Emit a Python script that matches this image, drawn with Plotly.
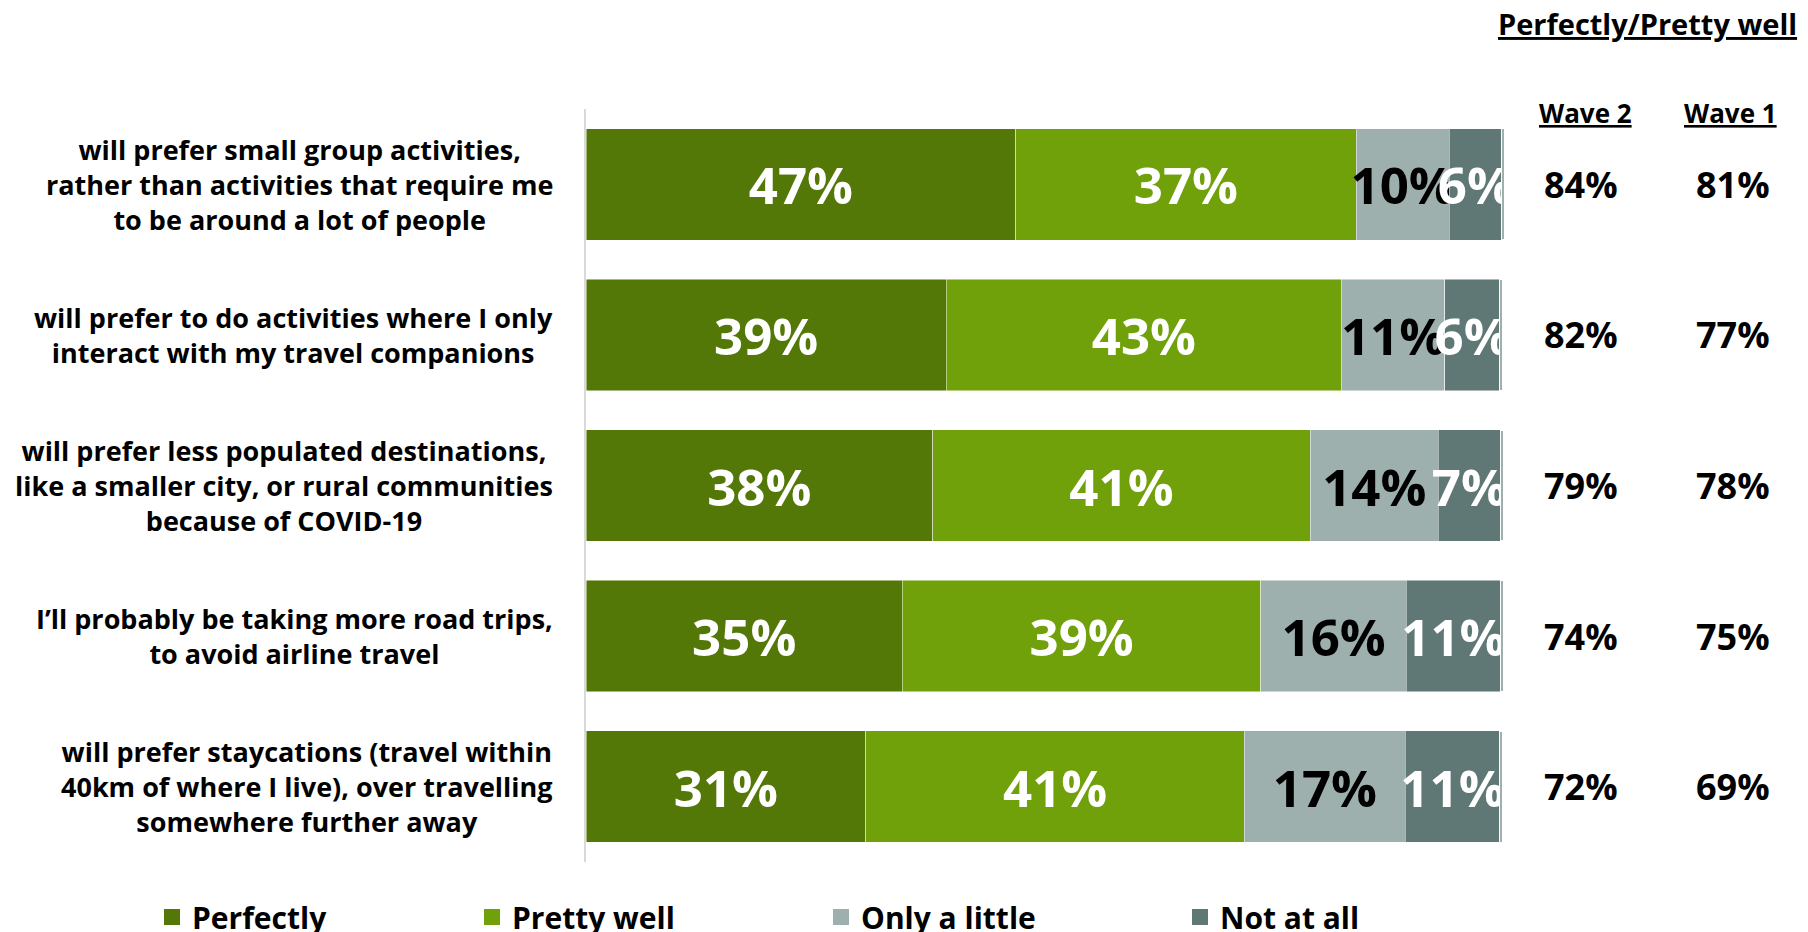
import plotly.graph_objects as go

categories = [
    "will prefer small group activities,<br>rather than activities that require me<br>to be around a lot of people",
    "will prefer to do activities where I only<br>interact with my travel companions",
    "will prefer less populated destinations,<br>like a smaller city, or rural communities<br>because of COVID-19",
    "I’ll probably be taking more road trips,<br>to avoid airline travel",
    "will prefer staycations (travel within<br>40km of where I live), over travelling<br>somewhere further away",
]
series_names = ["Perfectly", "Pretty well", "Only a little", "Not at all"]

# segment widths (percent)
perfectly = [47.0, 39.4, 37.9, 34.6, 30.6]
pretty_well = [37.2, 43.2, 41.3, 39.2, 41.4]
only_a_little = [10.2, 11.3, 14.0, 15.9, 17.6]
not_at_all = [5.7, 6.0, 6.8, 10.3, 10.3]
remainder = [0.4, 0.4, 0.4, 0.4, 0.4]

# printed labels
perfectly_labels = [47, 39, 38, 35, 31]
pretty_well_labels = [37, 43, 41, 39, 41]
only_a_little_labels = [10, 11, 14, 16, 17]
not_at_all_labels = [6, 6, 7, 11, 11]

wave2 = [84, 82, 79, 74, 72]
wave1 = [81, 77, 78, 75, 69]

colors = ["#537807", "#70A00A", "#9EB0AE", "#607875"]
text_colors = ["white", "white", "black", "white"]
values = [perfectly, pretty_well, only_a_little, not_at_all]
labels = [perfectly_labels, pretty_well_labels, only_a_little_labels, not_at_all_labels]

FONT = "Open Sans"
WEIGHT = 700
W, H = 1808, 932
OFF = 8  # page body margin
L, R, T, B = 578, 310, 101, 78
plot_w = W - L - R
plot_h = H - T - B

def sx(px):  # screen px -> paper x
    return (px - OFF - L) / plot_w

def sy(py):  # screen px -> paper y
    return (H - B - (py - OFF)) / plot_h

fig = go.Figure()
legend_ids = ["legend", "legend2", "legend3", "legend4"]
for i, name in enumerate(series_names):
    fig.add_trace(go.Bar(
        y=categories, x=values[i], name=name, orientation="h",
        marker=dict(color=colors[i], line=dict(color="rgba(255,255,255,0.6)", width=0.8)),
        text=[f"{v}%" for v in labels[i]],
        textposition="inside", insidetextanchor="middle", textangle=0,
        textfont=dict(family=FONT, size=51, color=text_colors[i], weight=WEIGHT),
        cliponaxis=True,
        showlegend=False,
        hoverinfo="skip",
    ))
fig.add_trace(go.Bar(
    y=categories, x=remainder, name="", orientation="h",
    marker=dict(color="#9EB0AE", line=dict(color="white", width=1.6)),
    showlegend=False, hoverinfo="skip",
))
# legend keys (square swatches)
for i, name in enumerate(series_names):
    fig.add_trace(go.Scatter(
        x=[None], y=[None], mode="markers", name=name,
        marker=dict(symbol="square", size=20, color=colors[i]),
        legend=legend_ids[i], hoverinfo="skip",
    ))

annotations = []
for cat in categories:
    annotations.append(dict(
        x=sx(555), xref="paper", y=cat, yref="y",
        text=cat, showarrow=False, xanchor="right", yanchor="middle", align="center",
        font=dict(family=FONT, size=27, color="black", weight=WEIGHT),
    ))
for cat, a, b in zip(categories, wave2, wave1):
    annotations.append(dict(
        x=sx(1581), xref="paper", y=cat, yref="y", text=f"{a}%",
        showarrow=False, xanchor="center", yanchor="middle",
        font=dict(family=FONT, size=36, color="black", weight=WEIGHT),
    ))
    annotations.append(dict(
        x=sx(1733), xref="paper", y=cat, yref="y", text=f"{b}%",
        showarrow=False, xanchor="center", yanchor="middle",
        font=dict(family=FONT, size=36, color="black", weight=WEIGHT),
    ))

annotations.append(dict(
    x=sx(1647), xref="paper", y=sy(23), yref="paper",
    text="<u>Perfectly/Pretty well</u>", showarrow=False, xanchor="center", yanchor="middle",
    font=dict(family=FONT, size=29, color="black", weight=WEIGHT),
))
annotations.append(dict(
    x=sx(1585), xref="paper", y=sy(113), yref="paper",
    text="<u>Wave 2</u>", showarrow=False, xanchor="center", yanchor="middle",
    font=dict(family=FONT, size=26, color="black", weight=WEIGHT),
))
annotations.append(dict(
    x=sx(1730), xref="paper", y=sy(113), yref="paper",
    text="<u>Wave 1</u>", showarrow=False, xanchor="center", yanchor="middle",
    font=dict(family=FONT, size=26, color="black", weight=WEIGHT),
))

legend_text_px = [193, 513, 862, 1221]
legend_common = dict(orientation="h", yanchor="middle", y=sy(917),
                     xanchor="left", bgcolor="rgba(0,0,0,0)",
                     font=dict(family=FONT, size=30, color="black", weight=WEIGHT))
layout_legends = {}
for lid, tx in zip(legend_ids, legend_text_px):
    layout_legends[lid] = dict(x=sx(tx - 41), **legend_common)

fig.update_layout(
    width=W, height=H,
    barmode="stack", bargap=0.26,
    plot_bgcolor="white", paper_bgcolor="white",
    margin=dict(l=L, r=R, t=T, b=B, autoexpand=False),
    xaxis=dict(range=[0, 100.6], visible=False, showgrid=False, zeroline=False),
    yaxis=dict(autorange=False, range=[4.5, -0.5], showticklabels=False, showgrid=False,
               zeroline=False, showline=True, linecolor="#D9D9D9", linewidth=2, ticks=""),
    uniformtext=dict(mode="show", minsize=51),
    annotations=annotations,
    showlegend=True,
    **layout_legends,
)

fig.write_html("out.html")
